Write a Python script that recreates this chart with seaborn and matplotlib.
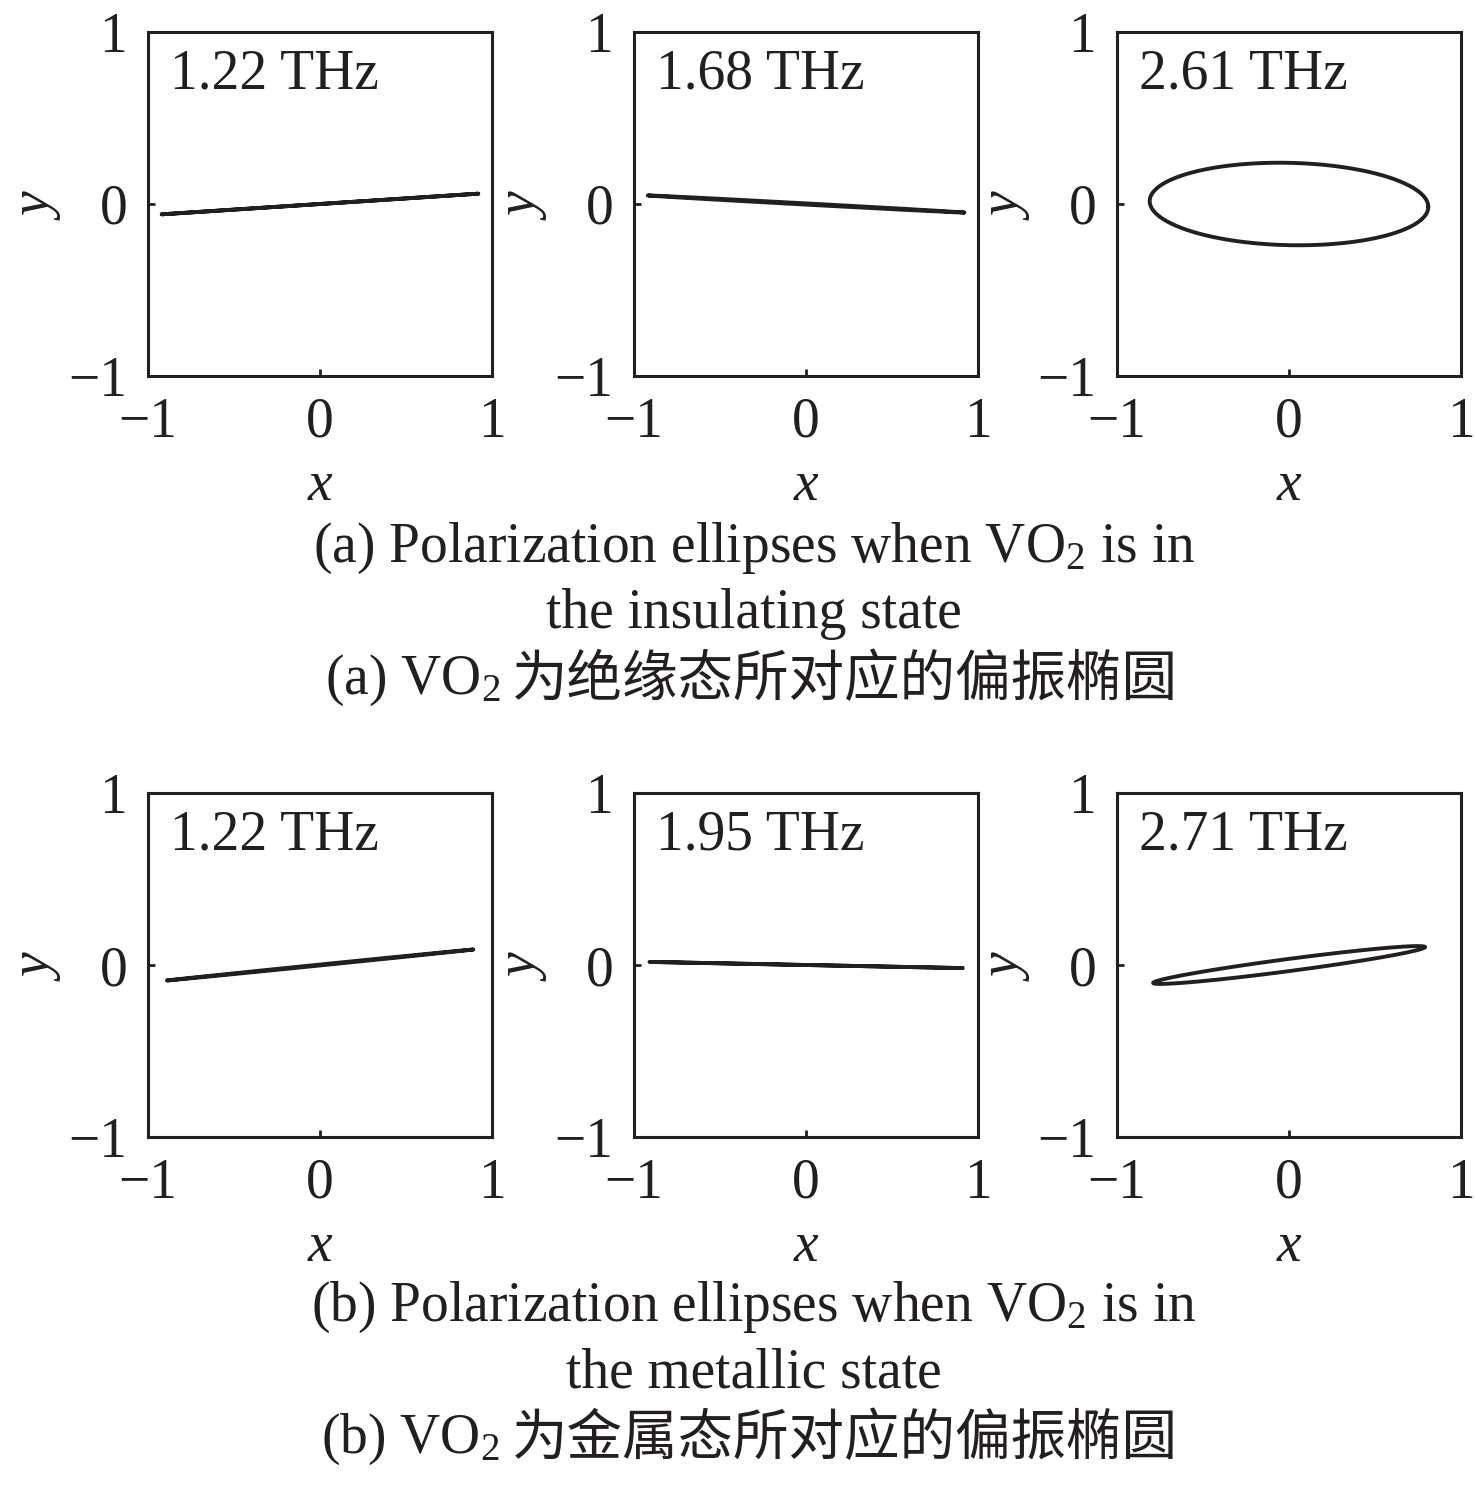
import numpy as np
import pandas as pd
import seaborn as sns
import matplotlib
matplotlib.use("Agg")
import matplotlib.pyplot as plt

sns.set_theme(style="white")
plt.rcParams["font.family"] = ["Liberation Serif", "Noto Sans CJK SC"]
plt.rcParams["mathtext.fontset"] = "custom"
plt.rcParams["mathtext.rm"] = "Liberation Serif"
plt.rcParams["mathtext.it"] = "Liberation Serif:italic"
plt.rcParams["axes.unicode_minus"] = True

# polarization ellipse parameters
# x amplitude, y amplitude, phase difference (rad)
freq_ins = ["1.22 THz", "1.68 THz", "2.61 THz"]
ex_ins = [0.92, 0.92, 0.81]
ey_ins = [0.06, 0.05, 0.24]
delta_ins = [0.0, 3.07, 1.64]

freq_met = ["1.22 THz", "1.95 THz", "2.71 THz"]
ex_met = [0.89, 0.91, 0.79]
ey_met = [0.09, 0.018, 0.11]
delta_met = [0.03, 3.14, 0.33]

ticks = [-1, 0, 1]
caption_a = ["(a) Polarization ellipses when VO$_2$ is in", "the insulating state"]
caption_b = ["(b) Polarization ellipses when VO$_2$ is in", "the metallic state"]
cn_a = ("(a) VO$_2$", "为绝缘态所对应的偏振椭圆")
cn_b = ("(b) VO$_2$", "为金属态所对应的偏振椭圆")

ink = "#231f20"
fs = 40

W, H = 1476, 1488
fig = plt.figure(figsize=(W / 100, H / 100), dpi=100)

lefts = [148, 634, 1117]
tops = [32, 793]
size = 344

t = np.linspace(0, 2 * np.pi, 400)


def panel(ax, ex, ey, d, label):
    df = pd.DataFrame({"x": ex * np.cos(t), "y": ey * np.cos(t - d)})
    sns.lineplot(data=df, x="x", y="y", sort=False, ax=ax, color=ink,
                 linewidth=2.8, estimator=None)
    ax.set_xlim(-1, 1)
    ax.set_ylim(-1, 1)
    ax.set_xticks(ticks)
    ax.set_yticks(ticks)
    ax.tick_params(direction="in", length=5, width=2, labelsize=fs, pad=15,
                   colors=ink, bottom=True, left=True)
    for s in ax.spines.values():
        s.set_linewidth(2.2)
        s.set_color(ink)
    ax.set_xlabel("$\\it{x}$", fontsize=fs, color=ink, labelpad=8)
    ax.set_ylabel("$\\it{y}$", fontsize=fs, color=ink, labelpad=4)
    ax.text(0.065, 0.835, label, transform=ax.transAxes, fontsize=fs,
            color=ink, va="baseline", ha="left")


rows = [(ex_ins, ey_ins, delta_ins, freq_ins), (ex_met, ey_met, delta_met, freq_met)]
for r, (exs, eys, ds, labs) in enumerate(rows):
    for c in range(3):
        ax = fig.add_axes([lefts[c] / W, 1 - (tops[r] + size) / H, size / W, size / H])
        panel(ax, exs[c], eys[c], ds[c], labs[c])

# captions
for cap, cn, y0 in [(caption_a, cn_a, 548), (caption_b, cn_b, 1307)]:
    fig.text(754 / W, 1 - y0 / H, cap[0], ha="center", va="center", fontsize=fs, color=ink)
    fig.text(754 / W, 1 - (y0 + 66) / H, cap[1], ha="center", va="center", fontsize=fs, color=ink)
    fig.text(500 / W, 1 - (y0 + 132) / H, cn[0], ha="right", va="center", fontsize=fs, color=ink)
    fig.text(512 / W, 1 - (y0 + 132) / H, cn[1], ha="left", va="center", fontsize=40,
             color=ink, family="Noto Sans CJK SC")

fig.savefig("out.png", dpi=100, facecolor="white")
